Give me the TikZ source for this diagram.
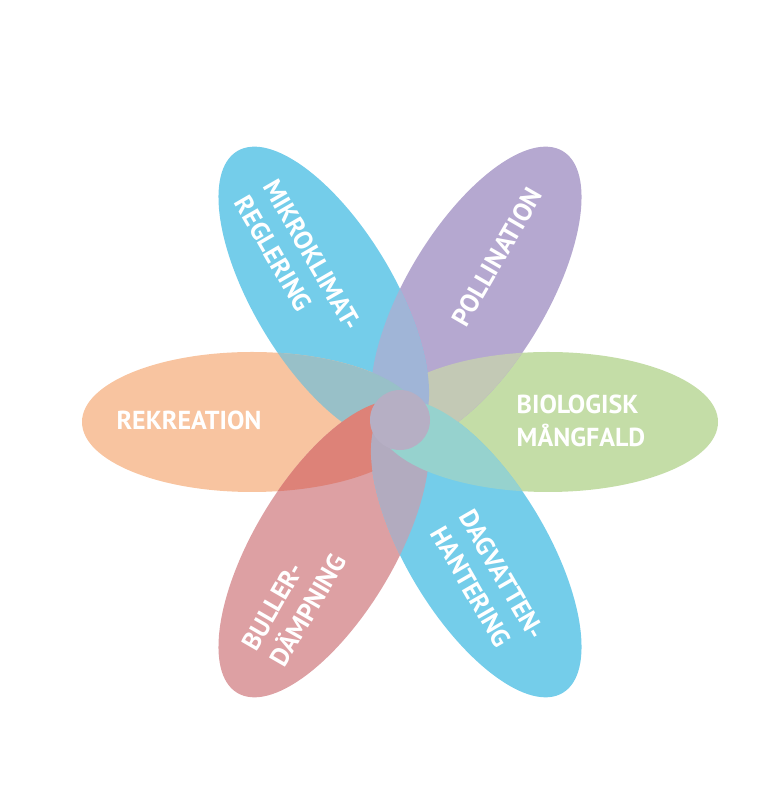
\documentclass[tikz,border=0pt]{standalone}
\usepackage{fontspec}
\setmainfont{PT Sans}
\usetikzlibrary{positioning}

\definecolor{bioC}{RGB}{196,221,167}
\definecolor{pollC}{RGB}{181,168,208}
\definecolor{mikroC}{RGB}{116,205,234}
\definecolor{rekrC}{RGB}{248,196,160}
\definecolor{bullC}{RGB}{221,160,163}
\definecolor{dagC}{RGB}{116,205,234}
% overlaps
\definecolor{bioPoll}{RGB}{195,201,181}
\definecolor{pollMikro}{RGB}{160,181,215}
\definecolor{mikroRekr}{RGB}{152,192,200}
\definecolor{rekrBull}{RGB}{221,130,120}
\definecolor{bullDag}{RGB}{178,171,191}
\definecolor{dagBio}{RGB}{150,210,206}
\definecolor{midC}{RGB}{152,194,220}
\definecolor{coreC}{RGB}{182,175,196}

% one petal, turned by #1 round the middle, half length #2
\newcommand{\petal}[2]{[rotate around={#1:(400,369)}] (548,369) ellipse [x radius=#2, y radius=70]}

\begin{document}
\begin{tikzpicture}[x=1pt,y=1pt,
  lbl/.style={text=white,font=\fontsize{26}{33}\selectfont\bfseries,align=left,inner sep=0pt}]
\useasboundingbox (0,0) rectangle (758,791);

% petals
\foreach \ang/\len/\col in {0/170/bioC,59/168/pollC,121/168/mikroC,180/170/rekrC,239/168/bullC,301/168/dagC}
  \fill[\col] \petal{\ang}{\len};

% centre overlaps of petals that are not neighbours
\foreach \a/\la/\b/\lb in {0/170/121/168,121/168/239/168,239/168/0/170,59/168/180/170,180/170/301/168,
                           301/168/59/168,0/170/180/170,59/168/239/168,121/168/301/168}{
  \begin{scope}
    \clip \petal{\a}{\la};
    \fill[midC] \petal{\b}{\lb};
  \end{scope}}

% overlaps of neighbours
\foreach \a/\la/\b/\lb/\col in {0/170/59/168/bioPoll,59/168/121/168/pollMikro,121/168/180/170/mikroRekr,
                                180/170/239/168/rekrBull,239/168/301/168/bullDag,301/168/360/170/dagBio}{
  \begin{scope}
    \clip \petal{\a}{\la};
    \fill[\col] \petal{\b}{\lb};
  \end{scope}}

\fill[coreC] (400,371) circle [radius=30];

% labels
\node[lbl] (rekr) at (189,371) {REKREATION};
\node[lbl] (bio) at (581,370) {BIOLOGISK\\MÅNGFALD};
\node[lbl,rotate=-60] (mikro) at (298,528) {MIKROKLIMAT-\\REGLERING};
\node[lbl,rotate=60] (poll) at (497,534) {POLLINATION};
\node[lbl,rotate=60] (buller) at (294,189) {BULLER-\\DÄMPNING};
\node[lbl,rotate=-60] (dag) at (488,208) {DAGVATTEN-\\HANTERING};
\end{tikzpicture}
\end{document}
